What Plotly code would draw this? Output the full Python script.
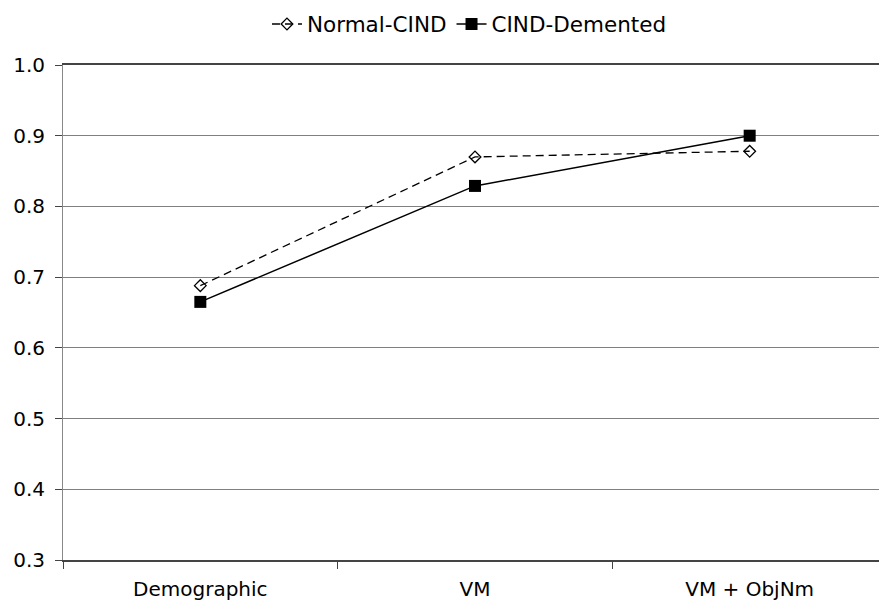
import plotly.graph_objects as go

categories = ["Demographic", "VM", "VM + ObjNm"]
normal_cind = [0.688, 0.870, 0.878]
cind_demented = [0.665, 0.829, 0.900]
y_ticks = [0.3, 0.4, 0.5, 0.6, 0.7, 0.8, 0.9, 1.0]
y_tick_labels = ["0.3", "0.4", "0.5", "0.6", "0.7", "0.8", "0.9", "1.0"]

FONT = "DejaVu Sans"

fig = go.Figure()
fig.add_trace(go.Scatter(
    x=categories, y=normal_cind, name="Normal-CIND", mode="lines+markers",
    line=dict(color="black", width=1.3, dash="8px,5px"),
    marker=dict(symbol="diamond-open", size=9, color="black", line=dict(width=1.3)),
))
fig.add_trace(go.Scatter(
    x=categories, y=cind_demented, name="CIND-Demented", mode="lines+markers",
    line=dict(color="black", width=1.5),
    marker=dict(symbol="square", size=12, color="black"),
))

# page body has an 8px offset; figure sized to fill the remaining window
fig.update_layout(
    width=879, height=593,
    margin=dict(l=55, r=0, t=57, b=41),
    paper_bgcolor="white", plot_bgcolor="white",
    font=dict(family=FONT, size=20, color="black"),
    showlegend=True,
    legend=dict(orientation="h", x=0.525, xanchor="center", xref="container",
                y=0.973, yref="container", yanchor="middle",
                font=dict(family=FONT, size=21.5), tracegroupgap=0),
)
fig.update_xaxes(
    type="category", range=[-0.5, 2.5], tickson="boundaries",
    ticks="outside", ticklen=7, tickcolor="#444444",
    showline=True, linecolor="#444444", linewidth=1.5, mirror=True,
    showgrid=False, ticklabelstandoff=10,
    tickfont=dict(family=FONT, size=20),
)
fig.update_yaxes(
    range=[0.3, 1.0], tickvals=y_ticks, ticktext=y_tick_labels,
    ticks="outside", ticklen=7, tickcolor="#444444",
    showline=True, linecolor="#888888", linewidth=1,
    showgrid=True, gridcolor="#808080", gridwidth=1.3,
    zeroline=False, tickfont=dict(family=FONT, size=20), ticklabelstandoff=6,
)

fig.write_html("out.html")
